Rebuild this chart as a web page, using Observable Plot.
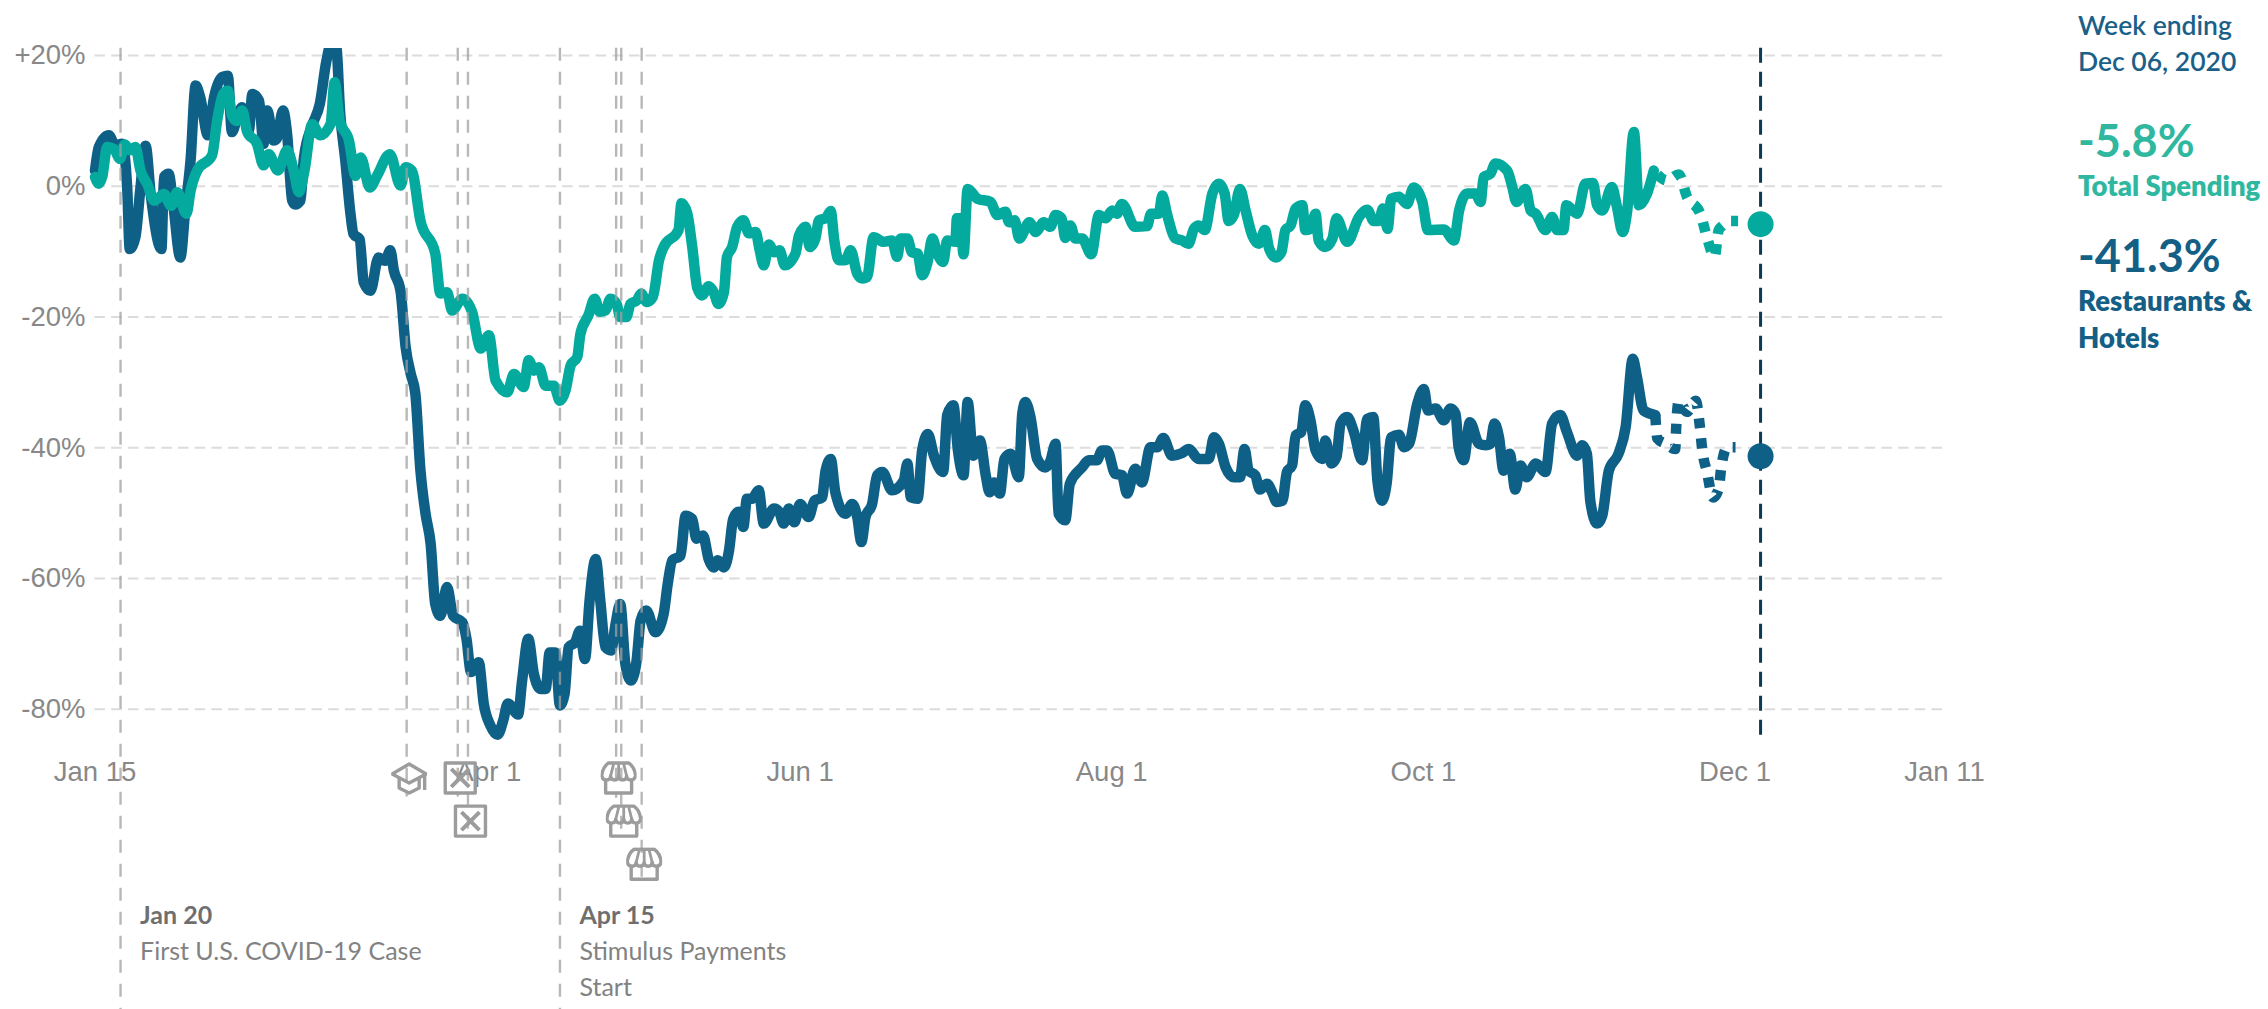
<!DOCTYPE html>
<html lang="en">
<head>
<meta charset="utf-8">
<title>Consumer spending, 2020</title>
<script src="https://cdn.jsdelivr.net/npm/d3@7"></script>
<script src="https://cdn.jsdelivr.net/npm/@observablehq/plot@0.6"></script>
<style>
  html, body { margin: 0; padding: 0; background: #fff; }
  #wrap { position: relative; width: 2268px; height: 1009px; overflow: hidden; }
  #wrap svg { position: absolute; left: 0; top: 0; }
  .side { position: absolute; left: 2078px; font-family: Lato, sans-serif; white-space: nowrap; line-height: 1; }
</style>
</head>
<body>
<div id="wrap">
  <div class="side" style="top:12px;font-size:26.5px;font-weight:600;color:#1b6088">Week ending</div>
  <div class="side" style="top:48px;font-size:26.5px;font-weight:600;color:#1b6088">Dec 06, 2020</div>
  <div class="side" style="top:118px;font-size:45px;font-weight:700;color:#2fb7a0">-5.8%</div>
  <div class="side" style="top:172px;font-size:27.5px;font-weight:800;color:#2fb7a0">Total Spending</div>
  <div class="side" style="top:233px;font-size:45px;font-weight:700;color:#135f86">-41.3%</div>
  <div class="side" style="top:287px;font-size:27.5px;font-weight:800;color:#135f86">Restaurants &amp;</div>
  <div class="side" style="top:324px;font-size:27.5px;font-weight:800;color:#135f86">Hotels</div>
</div>
<script>
// Days are counted from Jan 15, 2020; values are percent change against the January baseline.
const restaurantsDays = [
  0, 0.75, 2.7, 4, 5.3, 6.3, 6.8, 7.9, 8.9, 9.9,
  10.9, 13, 13.5, 14.4, 15.3, 16.7, 17.7, 18.7, 19.7, 20.6,
  22.1, 23.3, 24.9, 26, 26.8, 28, 28.8, 30.1, 30.8, 32.1,
  33, 33.7, 35, 35.6, 36.8, 37.6, 38.6, 39.2, 40.2, 40.9,
  42.5, 44, 45.3, 46, 47.2, 48, 49, 50, 50.6, 51.8,
  52.6, 53.9, 55.5, 56.8, 57.8, 58.5, 59.8, 60.8, 61.8, 62.7,
  63.7, 64.7, 65.7, 66.6, 67.6, 68.9, 70.1, 71.9, 72.7, 73.6,
  75.1, 76.1, 77.4, 78.8, 79.9, 80.8, 82.8, 83.6, 84.8, 85.9,
  87.2, 88.2, 89, 90.1, 91, 91.9, 92.7, 94, 94.9, 95.9,
  96.8, 98, 98.9, 99.9, 101, 101.9, 102.8, 103.8, 104.9, 106,
  106.8, 107.9, 109.7, 111.3, 112.1, 113, 114.6, 115.6, 116.9, 117.7,
  119, 120.1, 121.1, 121.9, 123.1, 124.1, 124.9, 126, 126.9, 127.6,
  128.6, 129.9, 130.9, 132.9, 133.9, 134.8, 135.8, 136.9, 138, 139.7,
  140.8, 142.3, 143, 144, 144.9, 146.9, 148.2, 149.2, 150, 150.8,
  152.1, 153.1, 154.1, 156, 158.3, 159, 159.7, 161, 161.9, 163,
  164.2, 166, 166.8, 168, 168.9, 170, 170.8, 171.9, 173.2, 174.3,
  175.1, 176, 177.1, 178, 179.2, 180.8, 181.5, 182.1, 183.1, 184.4,
  186, 187, 188, 188.6, 189.9, 190.8, 193.2, 194.5, 196.1, 197.1,
  198.1, 199.7, 201, 202, 203.6, 204.9, 206.6, 207.9, 209.1, 210.8,
  212.8, 214.1, 216, 218, 219, 220, 221.3, 222.9, 224.1, 225,
  225.8, 227.1, 228, 229.4, 230.4, 231.3, 232.4, 233.3, 234.3, 235,
  236.1, 236.9, 237.9, 238.9, 240.2, 240.8, 242, 243, 243.8, 245.1,
  246.4, 248, 249, 250.2, 251, 251.9, 252.8, 253.7, 255.2, 256.2,
  257.2, 258.8, 260.1, 260.9, 262.4, 264, 265.3, 266.3, 266.9, 267.9,
  269.1, 270.9, 272.2, 273.1, 273.9, 274.8, 275.7, 276.9, 278, 279,
  280.2, 282, 283.9, 285.2, 286.8, 288.1, 290.1, 291.1, 292, 292.7,
  294, 295, 296.3, 298.2, 299.6, 301, 301.8, 303.1, 305.4
];
const restaurantsValues = [
  2.4, 6, 7.8, 6.2, 6.5, -0.2, -9.6, -7.8, -0.2, 6.2,
  -1.2, -9.6, 1.4, 1.9, -2.7, -10.9, -3.2, 3.9, 15.4, 13.6,
  7.8, 13.6, 16.7, 16.9, 8.3, 11, 12.1, 8.5, 14.1, 13.1,
  6.5, 11.6, 7, 7.3, 11.6, 8, -2.2, -2.8, -2.2, 4.4,
  9.3, 12.6, 19.2, 21.3, 21.3, 11, 3.9, -4.2, -7.3, -8.1,
  -14.7, -16, -10.9, -11.4, -9.8, -12.9, -16, -24.6, -28.7, -31.7,
  -43.5, -50.1, -54.7, -63.9, -65.7, -61.3, -65.7, -66.7, -69.2, -74.3,
  -72.8, -79.2, -82.5, -83.9, -81.7, -79.1, -80.8, -75.6, -69.2, -74.6,
  -76.9, -76.9, -71.3, -71.3, -79.4, -77.7, -70.5, -69.7, -68, -72.3,
  -63.4, -57, -63.4, -70.5, -71, -66.9, -63.9, -73, -75.6, -72.6,
  -66.4, -64.9, -68.2, -65.4, -60.8, -57.2, -56.5, -50.4, -50.9, -53.9,
  -53.4, -57, -58.3, -57.2, -58.3, -55.7, -50.9, -49.8, -52.1, -47.8,
  -47.8, -46.5, -51.6, -49.3, -49.8, -51.6, -49.3, -51.4, -48.6, -50.6,
  -48.1, -47.6, -43.5, -41.7, -46.8, -50.1, -48.6, -50.6, -54.4, -50.6,
  -48.6, -44.2, -43.7, -46.5, -45, -42.4, -47.6, -47.8, -40.4, -37.9,
  -41.2, -43.7, -35, -33.5, -40.4, -44.2, -33, -41.2, -38.9, -44,
  -46.8, -45.3, -47, -41.7, -40.9, -44.5, -34.8, -33, -35.3, -41.7,
  -43, -42, -39.4, -50.1, -51.1, -45.5, -43, -41.9, -41.9, -40.4,
  -40.4, -44, -44.2, -47, -43.2, -45.3, -39.9, -39.9, -38.5, -41.2,
  -40.8, -40.2, -41.7, -41.7, -38.4, -39.4, -43, -44.5, -44.5, -40.2,
  -43.5, -44.2, -46.4, -45.5, -46.8, -48.3, -48.1, -43.7, -42.7, -38.1,
  -37.6, -33.5, -35.8, -40.4, -41.7, -38.9, -42.4, -41.4, -36.3, -35.3,
  -37.6, -41.9, -35.6, -35.3, -45, -48.1, -45.5, -38.4, -38, -39.9,
  -39.4, -33.3, -31, -34.3, -34, -35.8, -34, -34.8, -39.9, -41.9,
  -36.1, -39.4, -39.6, -39.4, -36.3, -38.4, -43.5, -40.9, -46.4, -42.7,
  -44.5, -42.4, -43.7, -36.3, -35, -37.6, -41.2, -39.6, -40.9, -48.3,
  -51.6, -50.4, -43.5, -40.9, -36.8, -26.4, -29.2, -34.3, -35
];
const restaurantsLateDays = [305.4, 305.8, 307.4, 309.3, 309.5, 310, 311.6, 313.3, 314.1, 314.6, 315.5, 316.7, 317.8, 318.3, 319.5, 321.1];
const restaurantsLateValues = [-35, -38.6, -39.4, -40.2, -36.6, -32.8, -34.5, -32.8, -36.6, -40.4, -43.7, -47.6, -46.3, -43, -39.9, -39.9];

const spendingDays = [
  0, 0.75, 1.4, 2.4, 3.7, 4.9, 5.8, 6.9, 7.9, 8.9,
  10.2, 11.6, 13.5, 14.9, 16.1, 17.9, 18.7, 20, 22.9, 23.9,
  25.1, 26, 26.8, 27.8, 28.8, 29.8, 31.7, 33, 34, 35.8,
  37.6, 38.9, 39.9, 41, 42.5, 44.1, 46.1, 46.9, 47.9, 49.7,
  51, 52, 53.8, 55.2, 57.7, 59.8, 60.8, 62, 63.7, 66.6,
  67.6, 68.9, 69.9, 71.9, 73.8, 75.5, 77.1, 78.4, 80.7, 82,
  83.9, 84.9, 85.9, 86.9, 88.2, 89.8, 91, 92.1, 93.1, 94.4,
  95, 96.6, 97.8, 98.8, 99.9, 100.9, 102.1, 102.8, 104, 104.8,
  106.1, 106.9, 108, 109.2, 110.4, 111.3, 114.2, 114.8, 115.9, 116.9,
  117.9, 118.8, 120.1, 121.1, 122, 123.1, 123.7, 124.7, 125.7, 126.9,
  128, 129.3, 130.1, 130.9, 131.9, 132.9, 134, 135, 137.1, 137.8,
  139.1, 139.9, 141, 141.7, 143, 144, 144.7, 145.6, 146.9, 147.9,
  149.2, 150.2, 151.1, 152.4, 154.4, 156, 157, 157.7, 159, 159.9,
  161, 161.9, 162.9, 163.9, 164.8, 166, 166.8, 168.4, 168.7, 169.4,
  170, 170.8, 172.7, 175.3, 176.6, 178.2, 178.9, 180, 180.9, 182.9,
  184.1, 185.7, 187, 188, 189.2, 189.9, 190.9, 191.9, 193.2, 195,
  196.5, 197.8, 199.1, 200, 201, 203.6, 205.9, 206.7, 208.2, 208.9,
  209.8, 211.5, 212.8, 214, 215.1, 216, 217.2, 218.7, 220, 221.1,
  221.9, 222.9, 224.1, 225.2, 226.5, 227.8, 229, 229.8, 231.1, 232.2,
  233, 234, 235, 236.3, 236.9, 237.9, 238.9, 239.5, 240.8, 242.2,
  243, 245.1, 247.4, 249, 250.3, 251.3, 252.1, 253, 253.7, 255.2,
  256.8, 258.1, 259.8, 260.9, 264, 266, 267, 268.6, 270.2, 271.2,
  271.8, 273.1, 274.1, 276.4, 277.4, 278.2, 280, 281, 282, 283.9,
  285.2, 286.2, 287.4, 288, 290.1, 291.7, 293.2, 294, 295, 296.9,
  297.9, 299, 299.9, 301.2, 302.2, 303.8, 305.1
];
const spendingValues = [
  1.4, 0.4, 1.4, 6, 5.7, 4.2, 6.4, 5.5, 6, 2.4,
  0.4, -2.2, -1.2, -3, -0.9, -4.2, -0.7, 2.4, 4.7, 10,
  14.1, 14.6, 10.8, 10, 11.6, 8.3, 6.5, 3.2, 4.9, 2.4,
  5.5, 2.4, -0.9, 2.4, 9.5, 7.8, 9.5, 15.9, 10, 7,
  1.6, 4.4, -0.2, 1.6, 4.9, 0.1, 2.9, 2.4, -5.3, -10.3,
  -16.4, -16.2, -19, -17.2, -19.2, -24.8, -22.8, -29.7, -31.5, -28.7,
  -30.7, -26.6, -28.2, -27.7, -30.5, -30.5, -32.8, -31.2, -27.4, -26.1,
  -22.6, -19.7, -17.2, -19.2, -19, -17.2, -18, -20, -20, -18,
  -17.4, -16.4, -17.7, -16.9, -11.3, -9.3, -6.7, -2.6, -4.1, -9.3,
  -15.6, -16.7, -15.3, -16.2, -18, -16.2, -10.8, -9.3, -6.2, -5.2,
  -7.2, -7, -9.8, -12.1, -8.9, -10.1, -9.8, -12.1, -10.3, -7.5,
  -6.2, -9.3, -8, -5.2, -4.9, -3.8, -8.3, -11.3, -11.3, -9.8,
  -13.4, -14.1, -13.9, -7.8, -8.5, -8.3, -10.8, -8, -8, -10.1,
  -10.3, -13.6, -11.8, -8, -10.1, -11.6, -8.3, -8.5, -4.9, -4.9,
  -10.4, -0.4, -1.9, -2.4, -4.4, -3.9, -5.5, -5.2, -8, -5.5,
  -7, -5.5, -6.2, -4.4, -4.9, -7.9, -6, -8, -8, -10.4,
  -4.4, -4.9, -3.7, -4.2, -2.7, -6.2, -6.1, -4.2, -4.2, -1.4,
  -4.2, -8, -8.3, -8.8, -6.5, -6, -6.7, -1.1, 0.4, -1.1,
  -5.3, -4.4, -0.4, -3.7, -7.5, -8.8, -6.7, -9.5, -10.9, -10.1,
  -6.7, -6, -3.4, -2.9, -6.7, -6.5, -4.2, -8.3, -9.3, -8,
  -4.9, -8.5, -4.7, -3.6, -5.3, -5.3, -3.4, -6.5, -1.9, -1.6,
  -2.7, -0.2, -2.4, -6.7, -6.6, -8.3, -3.7, -1.1, -1.1, -2.4,
  1.4, 1.9, 3.5, 2.4, -0.1, -2.4, -0.4, -3.7, -4.2, -6.7,
  -4.7, -6.7, -6.7, -2.9, -4.2, 0.4, 0.5, -2.9, -3.7, -0.1,
  -3.2, -7, -3.7, 8.3, -2.9, -1.1, 2.4
];
const spendingLateDays = [305.1, 307.7, 310, 311.6, 314.2, 315.5, 317, 317.8, 318.6, 320.1, 321.6];
const spendingLateValues = [2.4, 0.9, 1.8, -1.6, -4.2, -7.8, -10.8, -6.7, -6, -5.3, -5.3];

const gridValues = [20, 0, -20, -40, -60, -80];
const tickDays = [0, 77, 138, 199, 260, 321, 362];
const tickLabels = ["Jan 15", "Apr 1", "Jun 1", "Aug 1", "Oct 1", "Dec 1", "Jan 11"];

const eventDays = [5, 61, 71, 73, 91, 102, 103, 107];
const eventFloors = [-126, -93.4, -93.4, -100, -126, -93.6, -100, -106.6];
const iconDays = [61, 71, 73, 102, 103, 107];
const iconRows = [-90.5, -90.5, -97.1, -90.5, -97.1, -103.7];
const iconNames = ["cap", "closed", "closed", "store", "store", "store"];

const latestDay = 326;
const latestSpending = -5.8;
const latestRestaurants = -41.3;

const headDays = [5, 91];
const headRows = [-112.8, -112.8];
const headTexts = ["Jan 20", "Apr 15"];
const noteDays = [5, 91, 91];
const noteRows = [-118.3, -118.3, -123.9];
const noteTexts = ["First U.S. COVID-19 Case", "Stimulus Payments", "Start"];

const toDate = (day) => new Date(Date.UTC(2020, 0, 15) + day * 864e5);
const table = (days, values) => days.map((day, i) => ({date: toDate(day), value: values[i]}));
const notes = (days, rows, texts) => days.map((day, i) => ({date: toDate(day), row: rows[i], label: texts[i]}));

const blue = "#0f6087";
const teal = "#05aa9e";
const grey = "#9c9c9c";
const lineWidth = 10.5;

// Milestone pictograms, drawn as inline SVG images.
const svgIcon = (body) => "data:image/svg+xml," + encodeURIComponent(
  `<svg xmlns="http://www.w3.org/2000/svg" viewBox="0 0 36 34" fill="none" stroke="${grey}" stroke-width="3.4" stroke-linejoin="round">${body}</svg>`);
const icons = {
  cap: svgIcon(`<path d="M1 13 L18 3 L35 13 L18 22 Z"/><path d="M8 17 V27 L18 32 L28 27 V17"/><path d="M33.5 13 V29"/>`),
  closed: svgIcon(`<rect x="3" y="2" width="30" height="30"/><path d="M9 8 L27 26 M27 8 L9 26" stroke-width="4"/>`),
  store: svgIcon(`<path d="M8 2 H28 Q34 6 35 15 Q34 19 30 19 Q26 19 26 15 Q26 19 22 19 Q18 19 18 15 Q18 19 14 19 Q10 19 10 15 Q10 19 6 19 Q2 19 1 15 Q2 6 8 2 Z"/><path d="M13 3 L10 15 M18 3 V15 M23 3 L26 15" stroke-width="2.8"/><path d="M5 19 V32 H31 V19"/>`)
};

const tickDates = tickDays.map(toDate);
const labelFor = new Map(tickDates.map((d, i) => [+d, tickLabels[i]]));
const axisFont = "Liberation Sans, Arial, sans-serif";
const noteFont = "Lato, sans-serif";

const chart = Plot.plot({
  width: 2268,
  height: 1009,
  marginTop: 48,
  marginLeft: 89,
  marginRight: 268,
  marginBottom: 248,
  style: {background: "transparent", overflow: "visible"},
  x: {type: "utc", domain: [toDate(0), toDate(362)], range: [94.5, 1944]},
  y: {domain: [-80, 20], range: [708.8, 55]},
  marks: [
    Plot.ruleY(gridValues, {x1: toDate(0), x2: toDate(362), stroke: "#dcdcdc", strokeWidth: 2, strokeDasharray: "10.5,6.2"}),
    Plot.axisY({ticks: gridValues, tickSize: 0, tickPadding: 4, fontSize: 27.5, fontFamily: axisFont, color: "#888",
      tickFormat: (v) => (v > 0 ? "+" : "") + v + "%", label: null}),
    Plot.axisX({ticks: tickDates, tickSize: 0, tickPadding: 0, fontSize: 27.5, fontFamily: axisFont, color: "#888",
      tickFormat: (d) => labelFor.get(+d), label: null}),
    Plot.line(table(restaurantsDays, restaurantsValues), {x: "date", y: "value", stroke: blue, strokeWidth: lineWidth, curve: "monotone-x", clip: true}),
    Plot.line(table(restaurantsLateDays, restaurantsLateValues), {x: "date", y: "value", stroke: blue, strokeWidth: lineWidth, strokeLinecap: "butt", strokeDasharray: "10,10", curve: "monotone-x"}),
    Plot.line(table(spendingDays, spendingValues), {x: "date", y: "value", stroke: teal, strokeWidth: lineWidth, curve: "monotone-x", clip: true}),
    Plot.line(table(spendingLateDays, spendingLateValues), {x: "date", y: "value", stroke: teal, strokeWidth: lineWidth, strokeLinecap: "butt", strokeDasharray: "10,10", strokeDashoffset: 15, curve: "monotone-x"}),
    Plot.ruleX(eventDays.map((day, i) => ({date: toDate(day), floor: eventFloors[i]})), {
      x: "date", y1: 21.1, y2: "floor", stroke: "#a0a0a0", strokeOpacity: 0.75, strokeWidth: 2.4, strokeDasharray: "13,11"}),
    Plot.image(iconDays.map((day, i) => ({date: toDate(day), row: iconRows[i], src: icons[iconNames[i]]})), {
      x: "date", y: "row", src: "src", width: 36, height: 34, dx: 2.5}),
    Plot.text(notes(headDays, headRows, headTexts), {
      x: "date", y: "row", text: "label", dx: 19.5, textAnchor: "start", lineAnchor: "bottom", fontSize: 25, fontFamily: noteFont,
      fontWeight: 700, fill: "#6f6f6f"}),
    Plot.text(notes(noteDays, noteRows, noteTexts), {
      x: "date", y: "row", text: "label", dx: 19.5, textAnchor: "start", lineAnchor: "bottom", fontSize: 25, fontFamily: noteFont,
      fontWeight: 400, fill: "#828282"}),
    Plot.ruleX([toDate(latestDay)], {y1: 21.1, y2: -84.5, stroke: "#0d3a55", strokeWidth: 3, strokeDasharray: "15,9"}),
    Plot.dot(table([latestDay], [latestSpending]), {x: "date", y: "value", r: 13, fill: teal, stroke: "none"}),
    Plot.dot(table([latestDay], [latestRestaurants]), {x: "date", y: "value", r: 13, fill: blue, stroke: "none"})
  ]
});
document.getElementById("wrap").prepend(chart);
</script>
</body>
</html>
